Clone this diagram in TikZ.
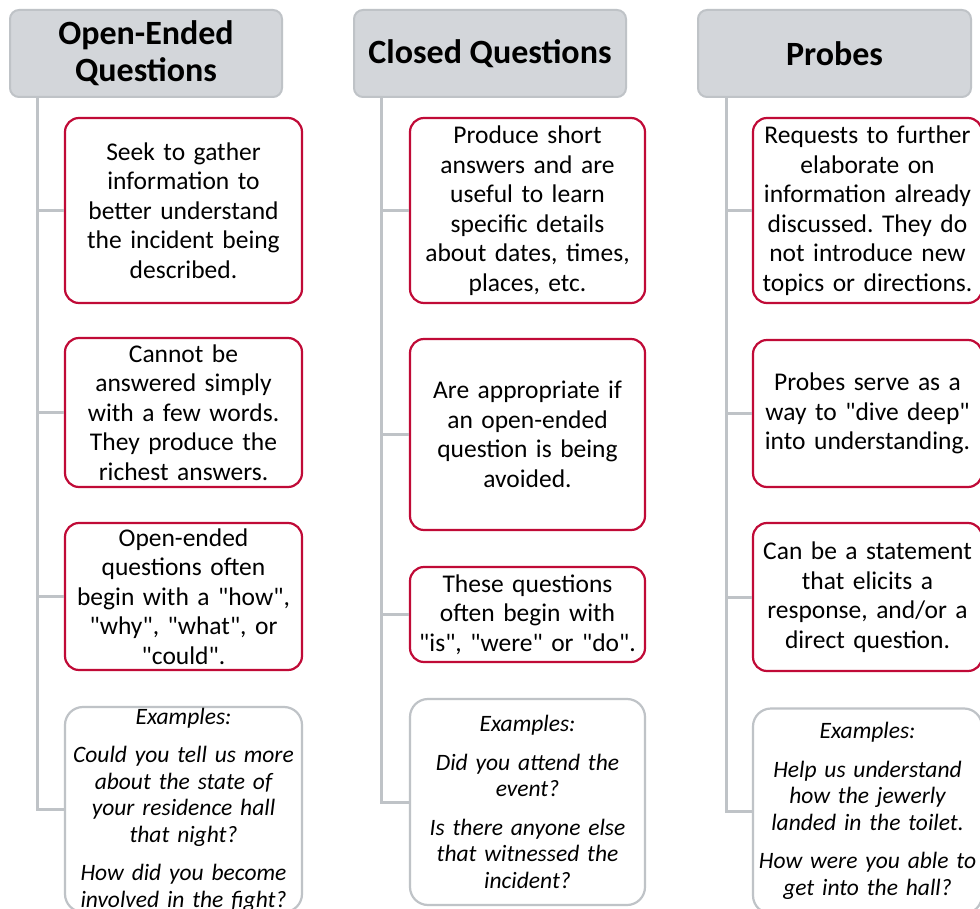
\documentclass[tikz,border=0pt]{standalone}
\usepackage{fontspec}
\setmainfont{Carlito}
\frenchspacing
\newcommand{\dq}{\textquotedbl}
\definecolor{boxred}{HTML}{C00A37}
\definecolor{linegray}{HTML}{BFC3C7}
\definecolor{headfill}{HTML}{D3D6DA}
\tikzset{
  head/.style={draw=linegray, fill=headfill, line width=2pt, rounded corners=9pt,
    minimum width=272pt, minimum height=87pt, inner sep=0pt, align=center,
    font=\fontsize{34}{37}\selectfont\bfseries},
  rbox/.style={draw=boxred, fill=white, line width=2.2pt, rounded corners=14pt,
    inner sep=0pt, align=center, font=\fontsize{25.5}{29.5}\selectfont},
  gbox/.style={draw=linegray, fill=white, line width=2.2pt, rounded corners=18pt,
    inner sep=0pt, align=center, font=\fontsize{23.5}{26.5}\selectfont\itshape},
  trunk/.style={draw=linegray, line width=3pt},
  col1/.style={minimum width=237pt, text width=230pt},
  col2/.style={minimum width=235pt, text width=228pt},
  col3/.style={minimum width=229pt, text width=226pt},
}
\begin{document}
\begin{tikzpicture}[x=1pt,y=-1pt]
\clip (0,0) rectangle (980,909);
\fill[white] (0,0) rectangle (980,909);

% headers
\node[head] (h1) at (146,53.5) {Open-Ended\\Questions};
\node[head] (h2) at (490,53.5) {Closed Questions};
\node[head, minimum width=273pt] (h3) at (834.5,53.5) {Probes};
\coordinate (t1) at ([xshift=28pt]h1.south west);
\coordinate (t2) at ([xshift=28pt]h2.south west);
\coordinate (t3) at ([xshift=29pt]h3.south west);

% column 1
\node[rbox, col1, minimum height=185pt] (b1) at (183.5,210.5)
  {Seek to gather\\information to\\better understand\\the incident being\\described.};
\node[rbox, col1, minimum height=149pt] (b2) at (183.5,412.5)
  {Cannot be\\answered simply\\with a few words.\\They produce the\\richest answers.};
\node[rbox, col1, minimum height=147pt] (b3) at (183.5,596.5)
  {Open-ended\\questions often\\begin with a \dq how\dq,\\\dq why\dq, \dq what\dq, or\\\dq could\dq.};
\node[gbox, col1, minimum height=205pt] (b4) at (183.5,809.5)
  {Examples:\\[12pt]Could you tell us more\\about the state of\\your residence hall\\that night?\\[12pt]How did you become\\involved in the fight?};

% column 2
\node[rbox, col2, minimum height=185pt] (c1) at (527.5,210.5)
  {Produce short\\answers and are\\useful to learn\\specific details\\about dates, times,\\places, etc.};
\node[rbox, col2, minimum height=191pt] (c2) at (527.5,434.5)
  {Are appropriate if\\an open-ended\\question is being\\avoided.};
\node[rbox, col2, minimum height=95pt] (c3) at (527.5,614.5)
  {These questions\\often begin with\\\dq is\dq, \dq were\dq{} or \dq do\dq.};
\node[gbox, col2, minimum height=206pt] (c4) at (527.5,802)
  {Examples:\\[12pt]Did you attend the\\event?\\[12pt]Is there anyone else\\that witnessed the\\incident?};

% column 3
\node[rbox, col3, minimum height=185pt] (p1) at (867.5,210.5)
  {Requests to further\\elaborate on\\information already\\discussed. They do\\not introduce new\\topics or directions.};
\node[rbox, col3, minimum height=147pt] (p2) at (867.5,413.5)
  {Probes serve as a\\way to \dq dive deep\dq\\into understanding.};
\node[rbox, col3, minimum height=148pt] (p3) at (867.5,597)
  {Can be a statement\\that elicits a\\response, and/or a\\direct question.};
\node[gbox, col3, minimum height=205pt] (p4) at (867.5,811)
  {Examples:\\[12pt]Help us understand\\how the jewerly\\landed in the toilet.\\[12pt]How were you able to\\get into the hall?};

% connectors
\draw[trunk] (t1) |- (b4.west);
\draw[trunk] (b1.west -| t1) -- (b1.west);
\draw[trunk] (b2.west -| t1) -- (b2.west);
\draw[trunk] (b3.west -| t1) -- (b3.west);

\draw[trunk] (t2) |- (c4.west);
\draw[trunk] (c1.west -| t2) -- (c1.west);
\draw[trunk] (c2.west -| t2) -- (c2.west);
\draw[trunk] (c3.west -| t2) -- (c3.west);

\draw[trunk] (t3) |- (p4.west);
\draw[trunk] (p1.west -| t3) -- (p1.west);
\draw[trunk] (p2.west -| t3) -- (p2.west);
\draw[trunk] (p3.west -| t3) -- (p3.west);
\end{tikzpicture}
\end{document}
